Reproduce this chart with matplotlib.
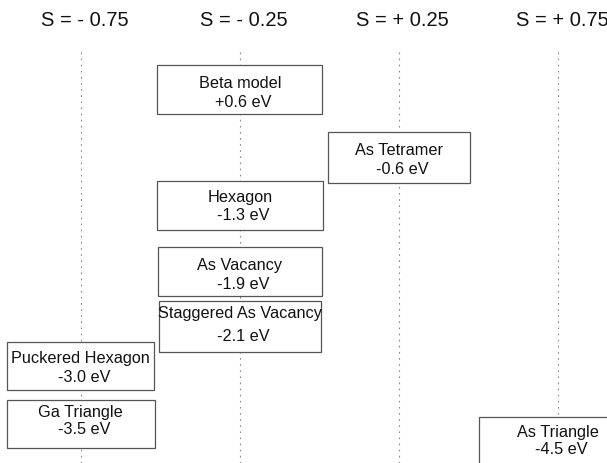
import matplotlib.pyplot as plt
from matplotlib.patches import Rectangle

# stoichiometry columns
columns = [-0.75, -0.25, 0.25, 0.75]
col_labels = ['S = - 0.75', 'S = - 0.25', 'S = + 0.25', 'S = + 0.75']

# structures, their column and relative energy (eV)
structures = ['Beta model', 'As Tetramer', 'Hexagon', 'As Vacancy',
              'Staggered As Vacancy', 'Puckered Hexagon', 'Ga Triangle', 'As Triangle']
stoich = [-0.25, 0.25, -0.25, -0.25, -0.25, -0.75, -0.75, 0.75]
energies = [0.6, -0.6, -1.3, -1.9, -2.1, -3.0, -3.5, -4.5]

# layout (vertical slots in pixels from the top, widths in S units)
box_top = [65, 132, 181, 247, 301, 342, 400, 417]
box_bot = [114, 183, 230, 296, 352, 390, 448, 475]
box_w = [0.518, 0.446, 0.52, 0.515, 0.51, 0.462, 0.465, 0.50]
line_dy = [(-6, 13), (-7, 12), (-8, 10), (-6, 13), (-13, 10), (-8, 12), (-12, 5), (-13, 3)]

plt.rcParams['font.family'] = ['Liberation Sans', 'DejaVu Sans']

fig = plt.figure(figsize=(6.07, 4.63), dpi=100)
ax = fig.add_axes([0, 0, 1, 1])
ax.set_xlim(-1.003, 0.903)
ax.set_ylim(463, 0)
ax.axis('off')

for s, lab in zip(columns, col_labels):
  ax.plot([s, s], [52, 463], color='#8a8a8a', lw=0.8, ls=(0, (1.5, 4)), zorder=1)
  ax.text(s + 0.012, 20, lab, ha='center', va='center', fontsize=14.5, color='#111')

for i, name in enumerate(structures):
  x0 = stoich[i] - box_w[i] / 2
  ax.add_patch(Rectangle((x0, box_top[i]), box_w[i], box_bot[i] - box_top[i],
                         facecolor='white', edgecolor='#555', lw=0.9, zorder=2))
  yc = (box_top[i] + box_bot[i]) / 2
  ax.text(stoich[i], yc + line_dy[i][0], name, ha='center', va='center',
          fontsize=11.7, color='#111', zorder=3)
  ax.text(stoich[i] + 0.01, yc + line_dy[i][1], '%+.1f eV' % energies[i],
          ha='center', va='center', fontsize=11.7, color='#111', zorder=3)

fig.savefig('out.png', dpi=100)
